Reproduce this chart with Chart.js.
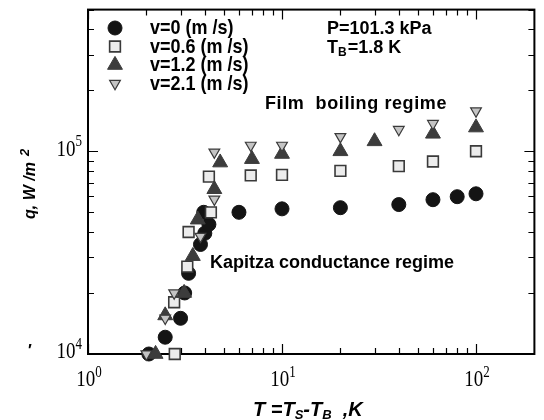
<!DOCTYPE html>
<html><head><meta charset="utf-8">
<script src="https://cdn.jsdelivr.net/npm/chart.js@4/dist/chart.umd.min.js"></script>
<style>html,body{margin:0;padding:0;background:#fff}#wrap{width:544px;height:420px;position:relative}</style>
</head><body><div id="wrap"><canvas id="c" width="544" height="420"></canvas></div>
<script>
// ---- data ----
const seriesNames = ['v=0 (m /s)', 'v=0.6 (m /s)', 'v=1.2 (m /s)', 'v=2.1 (m /s)'];
const v0x  = [2.06, 2.5, 3.0, 3.15, 3.3, 3.8, 4.0, 4.2, 3.95, 6.0, 10, 20, 40, 60, 80, 100];
const v0y  = [1.0e4, 1.21e4, 1.5e4, 2.0e4, 2.5e4, 3.47e4, 3.94e4, 4.36e4, 5.0e4, 5.0e4, 5.2e4, 5.27e4, 5.46e4, 5.77e4, 5.97e4, 6.17e4];
const v06x = [2.8, 2.78, 3.25, 3.3, 4.3, 4.2, 6.9, 10, 20, 40, 60, 100];
const v06y = [1.0e4, 1.8e4, 2.7e4, 4.0e4, 5.0e4, 7.5e4, 7.6e4, 7.65e4, 8.0e4, 8.45e4, 8.9e4, 1.0e5];
const v12x = [2.23, 2.5, 3.13, 3.47, 3.68, 4.48, 4.8, 7.0, 10, 20, 30, 60, 100];
const v12y = [1.0e4, 1.55e4, 2.0e4, 3.04e4, 4.6e4, 6.5e4, 8.8e4, 9.15e4, 9.7e4, 1.0e5, 1.12e5, 1.22e5, 1.31e5];
const v21x = [2.0, 2.5, 2.78, 3.8, 4.48, 4.48, 6.9, 10, 20, 40, 60, 100];
const v21y = [1.0e4, 1.5e4, 2.0e4, 3.8e4, 5.8e4, 9.9e4, 1.07e5, 1.07e5, 1.18e5, 1.28e5, 1.37e5, 1.58e5];
const xMajorTicks = [1, 10, 100];
const xTickExp = ['0', '1', '2'];
const xMinorTicks = [2,3,4,5,6,7,8,9,20,30,40,50,60,70,80,90,200];
const yMajorTicks = [1e4, 1e5];
const yTickExp = ['4', '5'];
const yMinorTicks = [2e4,3e4,4e4,5e4,6e4,7e4,8e4,9e4,2e5,3e5,4e5,5e5];

const toPts = (xs, ys) => xs.map((x, i) => ({x: x, y: ys[i]}));

const styles = [
  {pointStyle: 'circle', radius: 7, bg: '#141414', bc: '#141414', bw: 1, rot: 0},
  {pointStyle: 'rect', radius: 7.6, bg: '#ececec', bc: '#3a3a3a', bw: 1.6, rot: 0},
  {pointStyle: 'triangle', radius: 8.6, bg: '#3c3c3c', bc: '#3c3c3c', bw: 1, rot: 0},
  {pointStyle: 'triangle', radius: 6.2, bg: '#c4c4c4', bc: '#3a3a3a', bw: 1.2, rot: 180}
];
const allData = [toPts(v0x, v0y), toPts(v06x, v06y), toPts(v12x, v12y), toPts(v21x, v21y)];

const datasets = allData.map((d, i) => ({
  label: seriesNames[i], data: d, showLine: false, clip: false,
  pointStyle: styles[i].pointStyle, pointRadius: styles[i].radius, pointHoverRadius: styles[i].radius,
  pointRotation: styles[i].rot,
  backgroundColor: styles[i].bg, borderColor: styles[i].bc, pointBorderWidth: styles[i].bw,
  order: 4 - i
}));

function supText(ctx, base, exp, x, y, align, baseFont, expFont, dy) {
  ctx.font = baseFont; const wb = ctx.measureText(base).width;
  ctx.font = expFont; const we = ctx.measureText(exp).width;
  let sx = align === 'center' ? x - (wb + we) / 2 : (align === 'right' ? x - wb - we : x);
  ctx.textAlign = 'left'; ctx.textBaseline = 'middle';
  ctx.font = baseFont; ctx.fillText(base, sx, y);
  ctx.font = expFont; ctx.fillText(exp, sx + wb, y - dy);
}

const framePlugin = {
  id: 'frame',
  beforeDatasetsDraw(chart) {
    const {ctx, chartArea: a, scales: {x, y}} = chart;
    ctx.save();
    ctx.strokeStyle = '#000'; ctx.lineWidth = 2;
    ctx.strokeRect(a.left, a.top, a.right - a.left, a.bottom - a.top);
    ctx.lineWidth = 1.2;
    const tick = (vals, len, axis) => {
      vals.forEach(v => {
        if (axis === 'x') {
          const p = Math.round(x.getPixelForValue(v)) + 0.5;
          if (p < a.left || p > a.right) return;
          ctx.beginPath(); ctx.moveTo(p, a.bottom); ctx.lineTo(p, a.bottom - len);
          ctx.moveTo(p, a.top); ctx.lineTo(p, a.top + len); ctx.stroke();
        } else {
          const p = Math.round(y.getPixelForValue(v)) + 0.5;
          if (p < a.top - 1 || p > a.bottom) return;
          ctx.beginPath(); ctx.moveTo(a.left, p); ctx.lineTo(a.left + len, p);
          ctx.moveTo(a.right, p); ctx.lineTo(a.right - len, p); ctx.stroke();
        }
      });
    };
    tick(xMajorTicks, 10, 'x'); tick(xMinorTicks, 6, 'x');
    tick(yMajorTicks, 10, 'y'); tick(yMinorTicks, 6, 'y');
    ctx.restore();
  },
  afterDraw(chart) {
    const {ctx, chartArea: a, scales: {x, y}} = chart;
    ctx.save();
    ctx.fillStyle = '#000';
    const serif = '"Liberation Serif", "Times New Roman", serif';
    // tick labels
    xMajorTicks.forEach((v, i) => {
      const p = x.getPixelForValue(v);
      ctx.save(); ctx.translate(0, 380); ctx.scale(1, 1.25);
      supText(ctx, '10', xTickExp[i], p + 1, 0, 'center', '19px ' + serif, '13px ' + serif, 6);
      ctx.restore();
    });
    yMajorTicks.forEach((v, i) => {
      const p = y.getPixelForValue(v);
      ctx.save(); ctx.translate(0, p - 2); ctx.scale(1, 1.25);
      supText(ctx, '10', yTickExp[i], 82, 0, 'right', '19px ' + serif, '13px ' + serif, 6);
      ctx.restore();
    });
    const sans = '"Liberation Sans", Arial, sans-serif';
    // legend
    const lx = 115, lys = [28, 46.5, 65, 83.5];
    lys.forEach((ly, i) => {
      const s = styles[i];
      ctx.save();
      ctx.fillStyle = s.bg; ctx.strokeStyle = s.bc; ctx.lineWidth = s.bw;
      Chart.helpers.drawPoint(ctx, {pointStyle: s.pointStyle, radius: s.radius, rotation: s.rot, borderWidth: s.bw}, lx, ly);
      ctx.restore();
      ctx.save(); ctx.translate(150, ly + 1); ctx.scale(1, 1.1);
      ctx.font = 'bold 18px ' + sans; ctx.textAlign = 'left'; ctx.textBaseline = 'middle';
      ctx.fillText(seriesNames[i], 0, 0);
      ctx.restore();
    });
    // annotations
    ctx.font = 'bold 18px ' + sans; ctx.textBaseline = 'middle'; ctx.textAlign = 'left';
    ctx.fillText('P=101.3 kPa', 327, 29);
    ctx.fillText('T', 327, 48);
    let w = ctx.measureText('T').width;
    ctx.font = 'bold 12px ' + sans; ctx.fillText('B', 327 + w, 53);
    w += ctx.measureText('B').width;
    ctx.font = 'bold 18px ' + sans; ctx.fillText('=1.8 K', 327 + w + 1, 48);
    ctx.letterSpacing = '0.6px';
    ctx.fillText('Film  boiling regime', 265, 104);
    ctx.letterSpacing = '0px';
    ctx.fillText('Kapitza conductance regime', 210, 263);
    // x title
    let tx = 253; const ty = 410;
    const seg = (t, f, dy) => { ctx.font = f; ctx.fillText(t, tx, ty + dy); tx += ctx.measureText(t).width; };
    seg('T =T', 'italic bold 20px ' + sans, 0);
    seg('S', 'italic bold 13px ' + sans, 5);
    seg('-T', 'italic bold 20px ' + sans, 0);
    seg('B', 'italic bold 13px ' + sans, 5);
    seg('  ,K', 'italic bold 20px ' + sans, 0);
    // y title
    ctx.save(); ctx.translate(31, 219); ctx.rotate(-Math.PI / 2);
    ctx.textAlign = 'left'; ctx.textBaseline = 'middle';
    ctx.font = 'italic bold 16px ' + sans; ctx.fillText('q, W /m', 0, 0);
    const wy = ctx.measureText('q, W /m').width;
    ctx.font = 'italic bold 13px ' + sans; ctx.fillText('2', wy + 6, -6);
    ctx.restore();
    // stray mark
    ctx.font = 'bold 16px ' + sans; ctx.fillText('\u2032', 28, 352);
    ctx.restore();
  }
};

new Chart(document.getElementById('c'), {
  type: 'scatter',
  data: {datasets: datasets},
  options: {
    responsive: false, animation: false, devicePixelRatio: 1,
    layout: {padding: {left: 88, right: 2, top: 7, bottom: 66}},
    plugins: {legend: {display: false}, tooltip: {enabled: false}},
    scales: {
      x: {type: 'logarithmic', min: 1, max: 200, display: false},
      y: {type: 'logarithmic', min: 1e4, max: 5e5, display: false}
    }
  },
  plugins: [framePlugin]
});
</script>
</body></html>
